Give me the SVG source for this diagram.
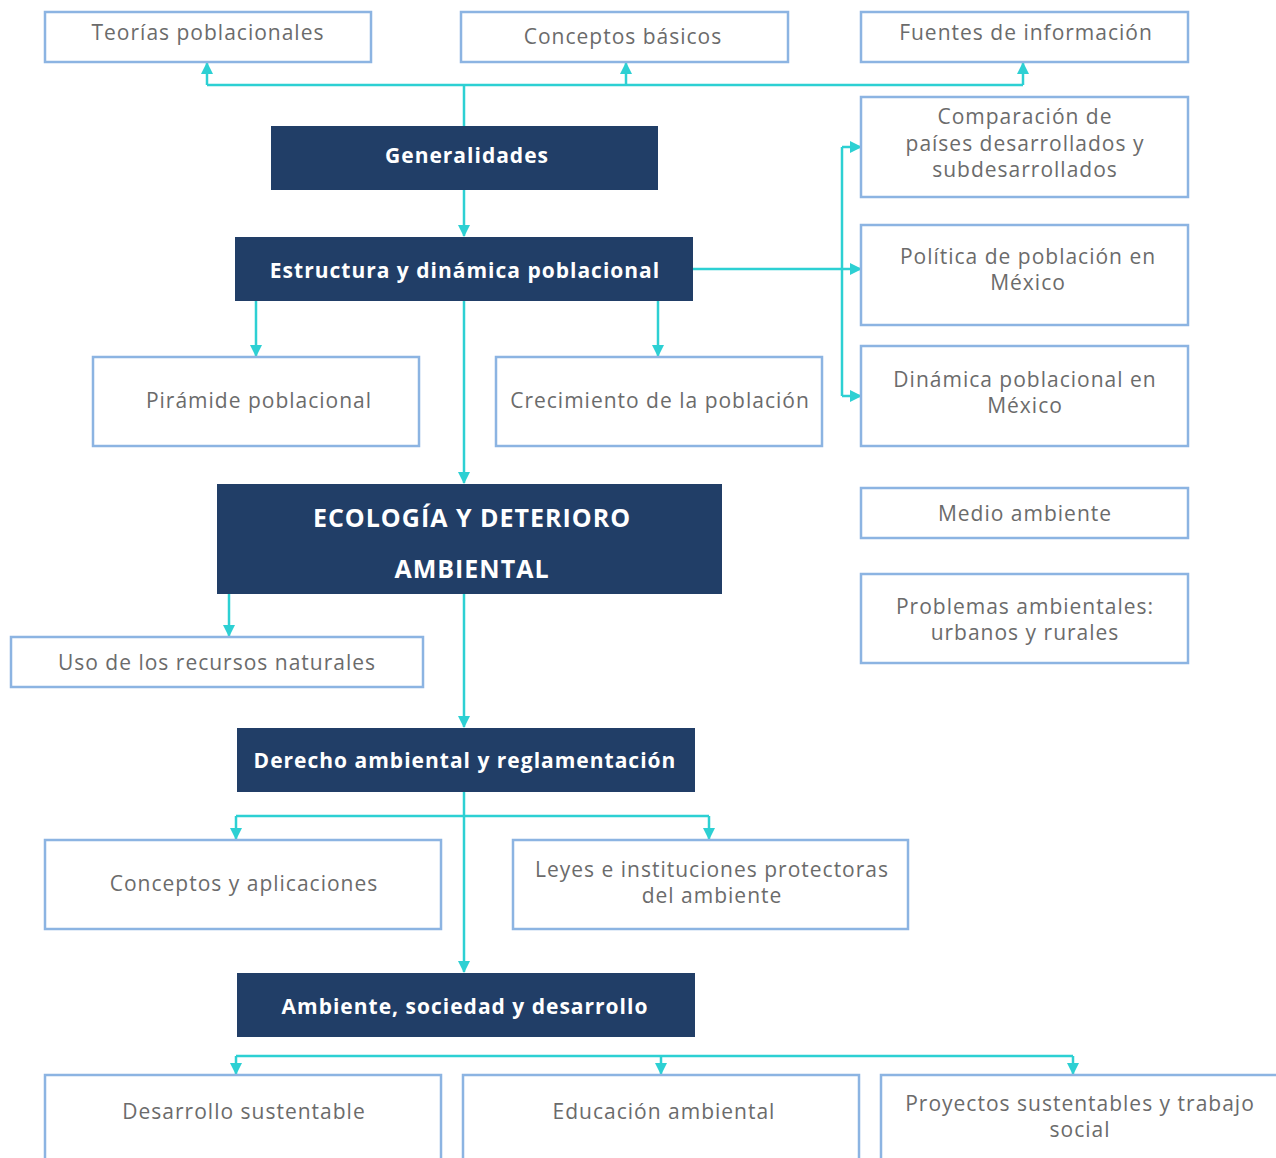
<svg xmlns="http://www.w3.org/2000/svg" width="1276" height="1158" viewBox="0 0 1276 1158">
<style>
.lb rect{fill:#ffffff;stroke:#8cb4e2;stroke-width:2.5}
.lb text{font-family:"Open Sans","Noto Sans",sans-serif;font-size:21px;letter-spacing:1px;fill:#6b6b6b;text-anchor:middle}
.db rect{fill:#213e67}
.db text{font-family:"Open Sans","Noto Sans",sans-serif;font-size:21px;letter-spacing:1px;font-weight:bold;fill:#ffffff;text-anchor:middle}
.big text{font-size:25px;letter-spacing:1px}
#connectors path{fill:none;stroke:#2dd0d3;stroke-width:2.5}
</style>
<defs>
<marker id="ah" markerUnits="userSpaceOnUse" markerWidth="12" markerHeight="12" viewBox="0 0 12 12" refX="11" refY="6" orient="auto">
<path d="M0,0 L12,6 L0,12 Z" fill="#2dd0d3"/>
</marker>
</defs>
<rect x="0" y="0" width="1276" height="1158" fill="#ffffff"/>

<g id="connectors">
<path d="M464,126 V85 M207,85 H1023"/>
<path d="M207,85 V63" marker-end="url(#ah)"/>
<path d="M626,85 V63" marker-end="url(#ah)"/>
<path d="M1023,85 V63" marker-end="url(#ah)"/>
<path d="M464,190 V236" marker-end="url(#ah)"/>
<path d="M693,269 H861" marker-end="url(#ah)"/>
<path d="M842,147 V396"/>
<path d="M842,147 H861" marker-end="url(#ah)"/>
<path d="M842,396 H861" marker-end="url(#ah)"/>
<path d="M256,301 V356" marker-end="url(#ah)"/>
<path d="M658,301 V356" marker-end="url(#ah)"/>
<path d="M464,301 V483" marker-end="url(#ah)"/>
<path d="M229,594 V636" marker-end="url(#ah)"/>
<path d="M464,594 V727" marker-end="url(#ah)"/>
<path d="M464,792 V972" marker-end="url(#ah)"/>
<path d="M236,816 H709"/>
<path d="M236,816 V839" marker-end="url(#ah)"/>
<path d="M709,816 V839" marker-end="url(#ah)"/>
<path d="M236,1056 H1073"/>
<path d="M236,1056 V1074" marker-end="url(#ah)"/>
<path d="M661,1056 V1074" marker-end="url(#ah)"/>
<path d="M1073,1056 V1074" marker-end="url(#ah)"/>
</g>

<g id="n-teorias" class="lb"><rect x="45" y="12" width="326" height="50"/><text x="208" y="40">Teorías poblacionales</text></g>
<g id="n-conceptos-basicos" class="lb"><rect x="461" y="12" width="327" height="50"/><text x="623" y="44">Conceptos básicos</text></g>
<g id="n-fuentes" class="lb"><rect x="861" y="12" width="327" height="50"/><text x="1026" y="40">Fuentes de información</text></g>

<g id="n-generalidades" class="db"><rect x="271" y="126" width="387" height="64"/><text x="467" y="163">Generalidades</text></g>
<g id="n-estructura" class="db"><rect x="235" y="237" width="458" height="64"/><text x="465" y="278">Estructura y dinámica poblacional</text></g>

<g id="n-comparacion" class="lb"><rect x="861" y="97" width="327" height="100"/><text x="1025" y="124">Comparación de</text><text x="1025" y="151">países desarrollados y</text><text x="1025" y="177">subdesarrollados</text></g>
<g id="n-politica" class="lb"><rect x="861" y="225" width="327" height="100"/><text x="1028" y="264">Política de población en</text><text x="1028" y="290">México</text></g>
<g id="n-dinamica" class="lb"><rect x="861" y="346" width="327" height="100"/><text x="1025" y="387">Dinámica poblacional en</text><text x="1025" y="413">México</text></g>
<g id="n-medio" class="lb"><rect x="861" y="488" width="327" height="50"/><text x="1025" y="521">Medio ambiente</text></g>
<g id="n-problemas" class="lb"><rect x="861" y="574" width="327" height="89"/><text x="1025" y="614">Problemas ambientales:</text><text x="1025" y="640">urbanos y rurales</text></g>

<g id="n-piramide" class="lb"><rect x="93" y="357" width="326" height="89"/><text x="259" y="408">Pirámide poblacional</text></g>
<g id="n-crecimiento" class="lb"><rect x="496" y="357" width="326" height="89"/><text x="660" y="408">Crecimiento de la población</text></g>

<g id="n-ecologia" class="db big"><rect x="217" y="484" width="505" height="110"/><text x="472" y="527">ECOLOGÍA Y DETERIORO</text><text x="472" y="578">AMBIENTAL</text></g>

<g id="n-uso" class="lb"><rect x="11" y="637" width="412" height="50"/><text x="217" y="670">Uso de los recursos naturales</text></g>

<g id="n-derecho" class="db"><rect x="237" y="728" width="458" height="64"/><text x="465" y="768">Derecho ambiental y reglamentación</text></g>

<g id="n-conceptos-aplicaciones" class="lb"><rect x="45" y="840" width="396" height="89"/><text x="244" y="891">Conceptos y aplicaciones</text></g>
<g id="n-leyes" class="lb"><rect x="513" y="840" width="395" height="89"/><text x="712" y="877">Leyes e instituciones protectoras</text><text x="712" y="903">del ambiente</text></g>

<g id="n-ambiente" class="db"><rect x="237" y="973" width="458" height="64"/><text x="465" y="1014">Ambiente, sociedad y desarrollo</text></g>

<g id="n-desarrollo" class="lb"><rect x="45" y="1075" width="396" height="110"/><text x="244" y="1119">Desarrollo sustentable</text></g>
<g id="n-educacion" class="lb"><rect x="463" y="1075" width="396" height="110"/><text x="664" y="1119">Educación ambiental</text></g>
<g id="n-proyectos" class="lb"><rect x="881" y="1075" width="410" height="110"/><text x="1080" y="1111">Proyectos sustentables y trabajo</text><text x="1080" y="1137">social</text></g>
</svg>
